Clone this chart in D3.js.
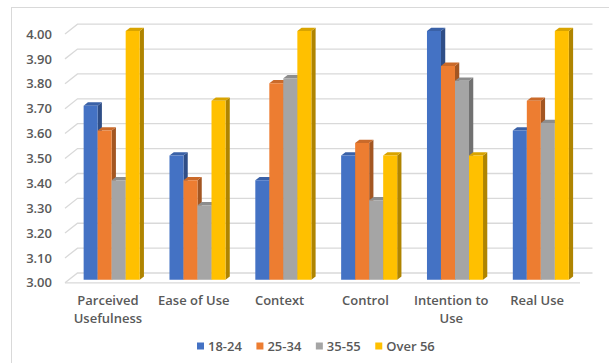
<!DOCTYPE html>
<html>
<head>
<meta charset="utf-8">
<script src="https://cdn.jsdelivr.net/npm/d3@7"></script>
<style>
  html, body { margin: 0; padding: 0; background: #ffffff; }
  svg { display: block; font-family: "Open Sans", "Liberation Sans", sans-serif; }
</style>
</head>
<body>
<svg id="chart" width="609" height="363"></svg>
<script>
// Survey means by construct and age group
const categories = [["Parceived", "Usefulness"], ["Ease of Use"], ["Context"], ["Control"], ["Intention to", "Use"], ["Real Use"]];
const seriesNames = ["18-24", "25-34", "35-55", "Over 56"];
const seriesColors = ["#4472C4", "#ED7D31", "#A5A5A5", "#FFC000"];
const age18to24 = [3.70, 3.50, 3.40, 3.50, 4.00, 3.60];
const age25to34 = [3.60, 3.40, 3.79, 3.55, 3.86, 3.72];
const age35to55 = [3.40, 3.30, 3.81, 3.32, 3.80, 3.63];
const ageOver56 = [4.00, 3.72, 4.00, 3.50, 3.50, 4.00];
const yTicks = [3.00, 3.10, 3.20, 3.30, 3.40, 3.50, 3.60, 3.70, 3.80, 3.90, 4.00];

const seriesValues = [age18to24, age25to34, age35to55, ageOver56];

const svg = d3.select("#chart");

// chart area frame
svg.append("rect")
  .attr("x", 11.5).attr("y", 7.5).attr("width", 620).attr("height", 380)
  .attr("fill", "#ffffff").attr("stroke", "#d9d9d9").attr("stroke-width", 1);

// oblique depth vector of the plot box
const DX = 12.5, DY = -9.8;
const proj = (x, y, f) => [x + f * DX, y + f * DY];

const catKeys = categories.map((c, i) => i);
const x = d3.scaleBand().domain(catKeys).range([65, 580]);
const y = d3.scaleLinear().domain([3, 4]).range([282.8, 34]);
const groupW = x.bandwidth() * 0.653;
const xs = d3.scaleBand().domain(seriesNames).range([0, groupW]);

// gridlines: back wall + left wall connector
const grid = svg.append("g").attr("stroke", "#d9d9d9").attr("stroke-width", 1.3).attr("fill", "none");
yTicks.forEach(t => {
  const a = proj(65, y(t), 0), b = proj(65, y(t), 1), c = proj(580, y(t), 1);
  grid.append("path").attr("d", d3.line()([a, b, c]));
});
// floor front edge
grid.append("path").attr("d", d3.line()([proj(65, y(3), 0), proj(580, y(3), 0)]));

// y tick labels
svg.append("g").selectAll("text").data(yTicks).join("text")
  .attr("x", 52).attr("y", d => y(d))
  .attr("dy", "0.36em")
  .attr("text-anchor", "end")
  .attr("font-size", 13).attr("font-weight", 600).attr("fill", "#595959")
  .text(d => d3.format(".2f")(d));

// 3D bars: front, side and top faces
const F1 = 0.3, F2 = 0.64;
const bars = svg.append("g");
catKeys.forEach(ci => {
  const g0 = x(ci) + (x.bandwidth() - groupW) / 2;
  seriesNames.forEach((s, si) => {
    const v = seriesValues[si][ci];
    const x0 = g0 + xs(s), x1 = x0 + xs.bandwidth();
    const yt = y(v), yb = y(3);
    const col = d3.color(seriesColors[si]);
    const front = [proj(x0, yt, F1), proj(x1, yt, F1), proj(x1, yb, F1), proj(x0, yb, F1)];
    const side = [proj(x1, yt, F1), proj(x1, yt, F2), proj(x1, yb, F2), proj(x1, yb, F1)];
    const top = [proj(x0, yt, F1), proj(x0, yt, F2), proj(x1, yt, F2), proj(x1, yt, F1)];
    const poly = pts => "M" + pts.map(p => p.join(",")).join("L") + "Z";
    bars.append("path").attr("d", poly(side)).attr("fill", col.darker(1.05).formatHex());
    bars.append("path").attr("d", poly(top)).attr("fill", col.darker(0.45).formatHex());
    bars.append("path").attr("d", poly(front)).attr("fill", col.formatHex());
  });
});

// category labels
const catG = svg.append("g");
catKeys.forEach(ci => {
  const t = catG.append("text")
    .attr("x", x(ci) + x.bandwidth() / 2).attr("y", 305)
    .attr("text-anchor", "middle")
    .attr("font-size", 13).attr("font-weight", 600).attr("fill", "#595959");
  categories[ci].forEach((line, li) => {
    t.append("tspan").attr("x", x(ci) + x.bandwidth() / 2).attr("dy", li === 0 ? 0 : 18).text(line);
  });
});

// legend
const legend = svg.append("g");
let lx = 197;
seriesNames.forEach((s, si) => {
  legend.append("rect").attr("x", lx).attr("y", 342.5).attr("width", 7).attr("height", 7).attr("fill", seriesColors[si]);
  const t = legend.append("text").attr("x", lx + 11).attr("y", 346)
    .attr("dy", "0.36em").attr("font-size", 13).attr("font-weight", 600).attr("fill", "#595959").text(s);
  lx += 11 + t.node().getComputedTextLength() + 14.5;
});
</script>
</body>
</html>
